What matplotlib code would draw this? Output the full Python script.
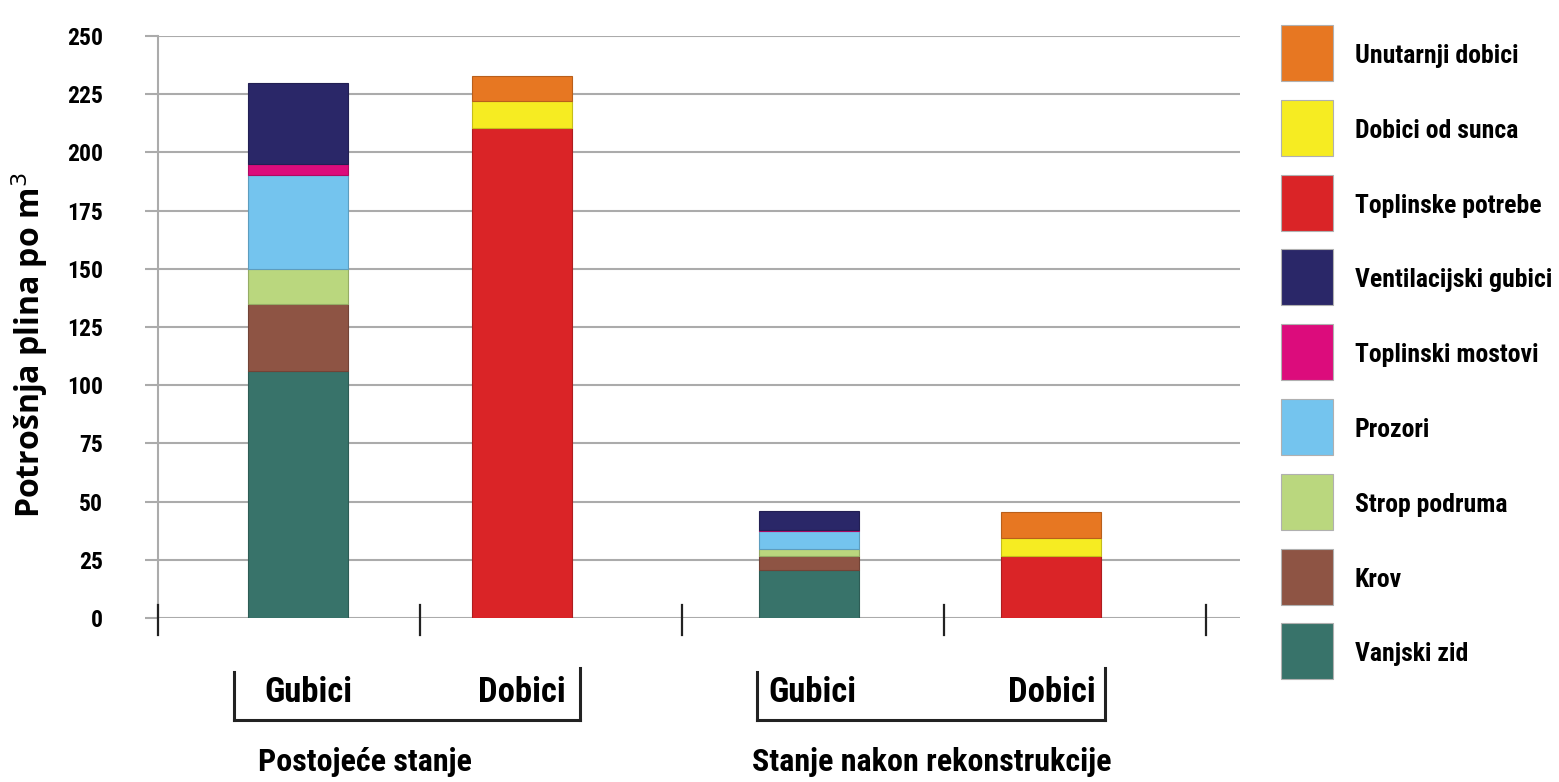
import numpy as np
import matplotlib.pyplot as plt
from matplotlib.patches import Rectangle
from matplotlib.lines import Line2D
from matplotlib.colors import to_rgb
from matplotlib import font_manager

# podaci (procijenjeno sa slike)
gubici_nazivi = ['Vanjski zid', 'Krov', 'Strop podruma', 'Prozori',
                 'Toplinski mostovi', 'Ventilacijski gubici']
gubici_prije = [106, 29, 15, 40.5, 4.5, 35]
gubici_poslije = [20.5, 6, 3, 8, 0.5, 8]

dobici_nazivi = ['Toplinske potrebe', 'Dobici od sunca', 'Unutarnji dobici']
dobici_prije = [210.5, 11.5, 11]
dobici_poslije = [26.5, 8, 11]

boje = {
    'Vanjski zid': '#38736A',
    'Krov': '#8E5444',
    'Strop podruma': '#BAD77E',
    'Prozori': '#74C4EE',
    'Toplinski mostovi': '#DC0C7C',
    'Ventilacijski gubici': '#2A2768',
    'Toplinske potrebe': '#DA2427',
    'Dobici od sunca': '#F6EC22',
    'Unutarnji dobici': '#E77722',
}

legenda_red = ['Unutarnji dobici', 'Dobici od sunca', 'Toplinske potrebe',
               'Ventilacijski gubici', 'Toplinski mostovi', 'Prozori',
               'Strop podruma', 'Krov', 'Vanjski zid']

y_ticks = [0, 25, 50, 75, 100, 125, 150, 175, 200, 225, 250]

# odabir fonta (uski ako postoji)
dostupni = {f.name for f in font_manager.fontManager.ttflist}
uski = 'DejaVu Sans'
for kand in ['Roboto Condensed', 'Liberation Sans Narrow', 'DejaVu Sans Condensed', 'Open Sans Condensed']:
    if kand in dostupni:
        uski = kand
        break
plt.rcParams['font.family'] = [uski, 'DejaVu Sans']

W, H = 1559, 782
fig = plt.figure(figsize=(W / 100, H / 100), dpi=100)

def px(x, y):
    return x / W, 1 - y / H

def tamnija(c, f=0.8):
    return tuple(v * f for v in to_rgb(c))

x0, x1 = 158, 1240
ax = fig.add_axes([x0 / W, 1 - 618 / H, (x1 - x0) / W, (618 - 36) / H])
jed = 262.0  # piksela po jedinici x
ax.set_xlim(0, (x1 - x0) / jed)
ax.set_ylim(0, 250)

# stupci
sirina = 0.38
pozicije = [0.534, 1.389, 2.485, 3.408]

def stupac(x, vrijednosti, nazivi):
    dno = 0
    for v, n in zip(vrijednosti, nazivi):
        ax.bar(x, v, sirina, bottom=dno, color=boje[n], edgecolor=tamnija(boje[n]),
               linewidth=0.8, zorder=3)
        dno += v

stupac(pozicije[0], gubici_prije, gubici_nazivi)
stupac(pozicije[1], dobici_prije, dobici_nazivi)
stupac(pozicije[2], gubici_poslije, gubici_nazivi)
stupac(pozicije[3], dobici_poslije, dobici_nazivi)

# mreža i osi
ax.set_yticks(y_ticks)
ax.set_yticklabels([str(t) for t in y_ticks], fontsize=17, fontweight='bold')
ax.yaxis.grid(True, color='#ababab', linewidth=1.5, zorder=1)
ax.tick_params(axis='y', length=9.5, width=1.5, color='#ababab', pad=30)
ax.set_xticks([])
for s in ['top', 'right', 'bottom']:
    ax.spines[s].set_visible(False)
ax.spines['left'].set_color('#ababab')
ax.spines['left'].set_linewidth(1.5)

# okomite oznake granica
for i in range(5):
    ax.plot([i, i], [5.6, -7.3], color='#222222', lw=1.6, clip_on=False, zorder=4)

lx, ly = px(30, 345)
fig.text(lx, ly, 'Potrošnja plina po m$^3$', rotation=90, ha='center', va='center',
         fontsize=23, fontweight='bold', family=['Open Sans', 'DejaVu Sans'])

# zagrade ispod
def zagrada(xl, xr):
    for xs, ys in [([xl, xl], [672, 720]), ([xl, xr], [720, 720]), ([xr, xr], [668, 720])]:
        a, b = px(xs[0], ys[0])
        c, d = px(xs[1], ys[1])
        fig.add_artist(Line2D([a, c], [b, d], color='#222222', lw=2.2,
                              transform=fig.transFigure))

zagrada(234, 580)
zagrada(757, 1105)

for tx, x, y, fs in [('Gubici', 308, 692, 25), ('Dobici', 522, 692, 25),
                     ('Gubici', 812, 692, 25), ('Dobici', 1052, 692, 25),
                     ('Postojeće stanje', 365, 762, 23),
                     ('Stanje nakon rekonstrukcije', 932, 762, 23)]:
    fx, fy = px(x, y)
    fig.text(fx, fy, tx, ha='center', va='center', fontsize=fs, fontweight='bold')

# legenda (ručno)
for i, n in enumerate(legenda_red):
    yc = 53 + i * 74.8
    a, b = px(1281, yc + 28)
    fig.add_artist(Rectangle((a, b), 52 / W, 56 / H, facecolor=boje[n],
                             edgecolor='#b0b0b0', linewidth=0.8,
                             transform=fig.transFigure))
    tx, ty = px(1355, yc + 3)
    fig.text(tx, ty, n, ha='left', va='center', fontsize=18.5, fontweight='bold')

fig.savefig('out.png', dpi=100)
